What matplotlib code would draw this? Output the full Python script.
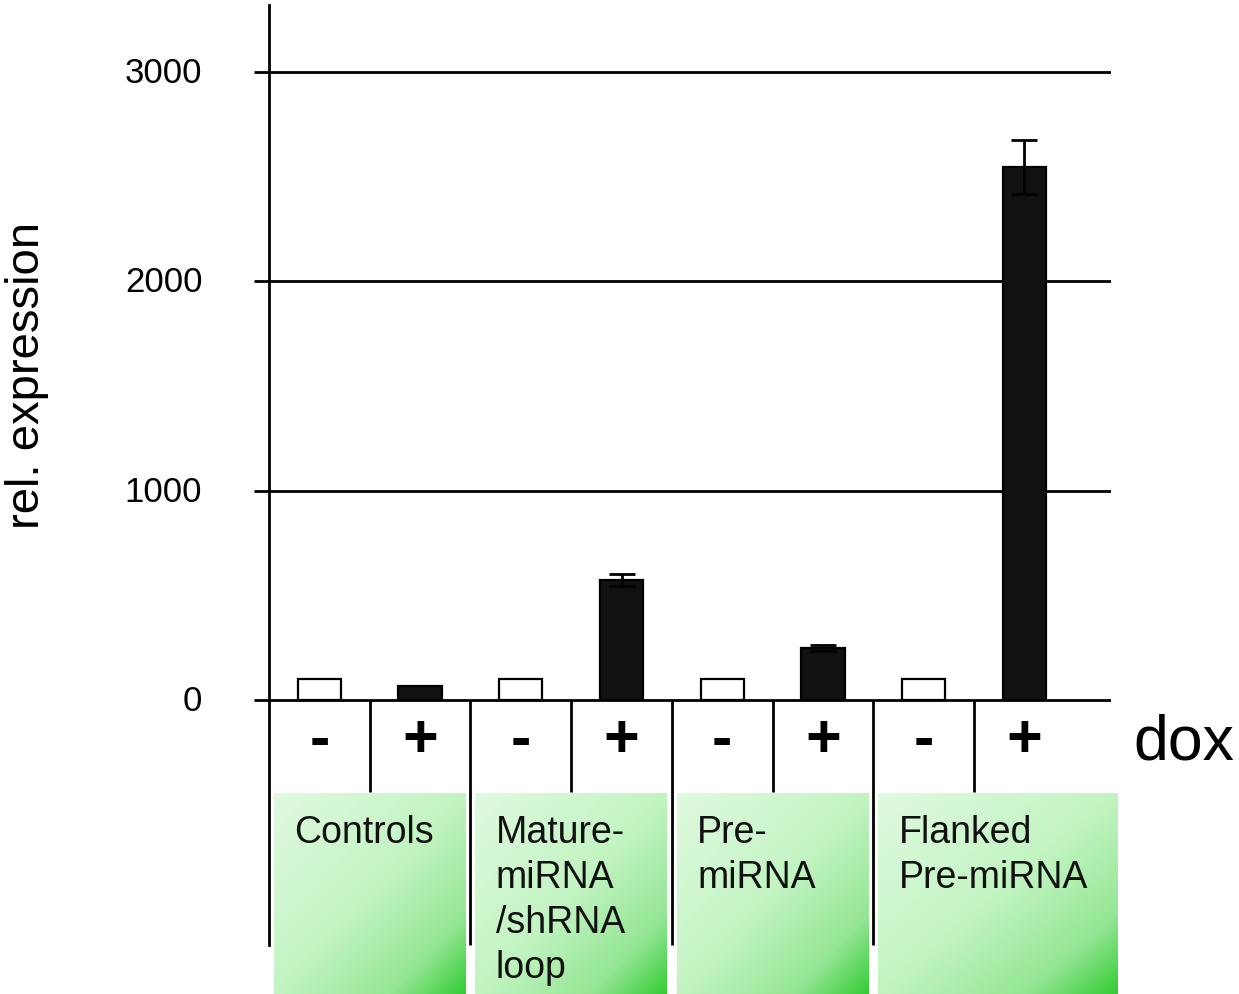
import numpy as np
import matplotlib
matplotlib.use("Agg")
import matplotlib.pyplot as plt
from matplotlib.colors import LinearSegmentedColormap
from matplotlib.transforms import ScaledTranslation

plt.rcParams["font.family"] = ["Liberation Sans", "DejaVu Sans"]

# data
dox = ["-", "+", "-", "+", "-", "+", "-", "+"]
values = [100, 67, 100, 573, 100, 248, 100, 2546]
errors = [0, 0, 0, 29, 0, 14, 0, 130]
groups = ["Controls", "Mature-\nmiRNA\n/shRNA\nloop", "Pre-\nmiRNA", "Flanked\nPre-miRNA"]
yticks = [0, 1000, 2000, 3000]

fig = plt.figure(figsize=(12.39, 9.95), dpi=100)
ax = fig.add_axes([269 / 1239, 49 / 995, 842 / 1239, 940 / 995])

xmin, xmax = -0.5, 7.86
ymin, ymax = -1170, 3320

x = np.arange(len(values))
colors = ["white" if d == "-" else "#111111" for d in dox]

# grid lines drawn above zero only
ax.hlines(yticks, xmin, xmax, color="black", lw=2, zorder=1)

ax.bar(x, values, width=0.43, color=colors, edgecolor="black", linewidth=1.6, zorder=3)
has_err = [i for i, e in enumerate(errors) if e > 0]
ax.errorbar(x[has_err], [values[i] for i in has_err], yerr=[errors[i] for i in has_err],
            fmt="none", ecolor="black", elinewidth=2, capsize=9.5, capthick=2, zorder=4)

# separators under the axis
for i in range(len(values) - 1):
    b = i + 0.5
    if i % 2 == 1:
        ax.vlines(b, ymin, 0, color="black", lw=2, clip_on=False)
    else:
        ax.vlines(b, -440, 0, color="black", lw=2, clip_on=False)

# dox signs
for xi, d in zip(x, dox):
    ax.text(xi, -266, d, ha="center", va="baseline", fontsize=44, fontweight="bold")

fig.text(1133 / 1239, 1 - 760 / 995, "dox", fontsize=45, va="baseline", ha="left")

# green gradient boxes
cmap = LinearSegmentedColormap.from_list(
    "grn", [(0, "#e0fae0"), (0.5, "#c2f4c2"), (0.8, "#95e695"), (1, "#33cc33")])
uu, vv = np.meshgrid(np.linspace(0, 1, 200), np.linspace(0, 1, 200))
grad = (uu + vv) / 2
box_top, box_bot = -445, -1410
for g, name in enumerate(groups):
    left = 2 * g - 0.5 + 0.05
    right = 2 * g + 1.5 - 0.05 if g < len(groups) - 1 else 7.93
    im = ax.imshow(grad, cmap=cmap, vmin=0, vmax=1, extent=[left, right, box_bot, box_top],
                   origin="upper", aspect="auto", interpolation="bilinear", zorder=0)
    im.set_clip_on(False)
    ax.text(left + 0.2, -543, name, ha="left", va="top", fontsize=27,
            linespacing=1.33, color="#111111", zorder=5)

ax.set_xlim(xmin, xmax)
ax.set_ylim(ymin, ymax)
ax.set_yticks(yticks)
ax.set_yticklabels([str(t) for t in yticks])
ax.set_xticks([])
ax.tick_params(axis="y", direction="out", length=11, width=2, pad=37, labelsize=25)
up = ScaledTranslation(0, 3 / 100, fig.dpi_scale_trans)
for lab in ax.get_yticklabels():
    lab.set_transform(lab.get_transform() + up)
for s in ["top", "right", "bottom"]:
    ax.spines[s].set_visible(False)
ax.spines["left"].set_linewidth(2)
ax.patch.set_alpha(0)

fig.text(27 / 1239, 1 - 375 / 995, "rel. expression", rotation=90, fontsize=34,
         ha="center", va="center")

fig.savefig("out.png", dpi=100)
